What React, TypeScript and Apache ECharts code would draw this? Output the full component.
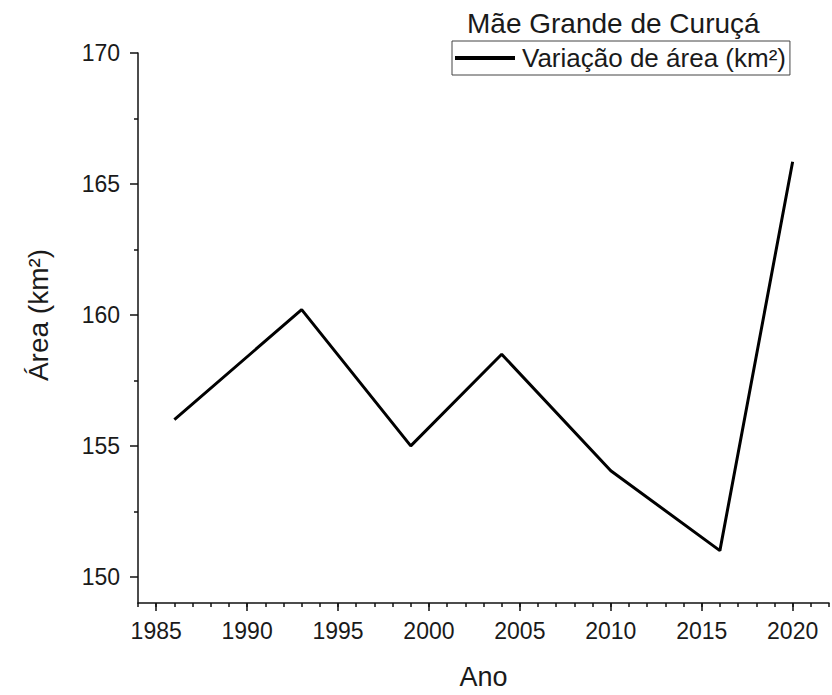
import React, { useEffect, useRef } from "react";
import * as echarts from "echarts";

const years = [1986, 1993, 1999, 2004, 2010, 2016, 2020];
const areas = [156.0, 160.2, 155.0, 158.5, 154.05, 151.0, 165.85];
const xMajorTicks = [1985, 1990, 1995, 2000, 2005, 2010, 2015, 2020];
const xMinorTicks = [1984, 1985, 1986, 1987, 1988, 1989, 1990, 1991, 1992, 1993, 1994, 1995, 1996, 1997, 1998, 1999, 2000, 2001, 2002, 2003, 2004, 2005, 2006, 2007, 2008, 2009, 2010, 2011, 2012, 2013, 2014, 2015, 2016, 2017, 2018, 2019, 2020, 2021, 2022];
const yMajorTicks = [150, 155, 160, 165, 170];
const yMinorTicks = [152.5, 157.5, 162.5, 167.5];
const chartTitle = "Mãe Grande de Curuçá";
const seriesName = "Variação de área (km²)";
const xName = "Ano";
const yName = "Área (km²)";

const FONT = "'Liberation Sans', Arial, sans-serif";

export default function App() {
  const ref = useRef<HTMLDivElement>(null);
  useEffect(() => {
    if (!ref.current) return;
    const chart = echarts.init(ref.current, null, { renderer: "svg" });
    const axisLine = { show: true, lineStyle: { color: "#111", width: 1.5 } };
    chart.setOption({
      animation: false,
      backgroundColor: "#fff",
      textStyle: { fontFamily: FONT },
      title: {
        text: chartTitle,
        left: 467,
        top: 9,
        padding: 0,
        textStyle: { fontFamily: FONT, fontSize: 28, fontWeight: "normal", color: "#1a1a1a" },
      },
      legend: {
        left: 452,
        top: 41,
        orient: "horizontal",
        borderColor: "#444",
        borderWidth: 1,
        padding: [4, 4, 4, 3],
        itemWidth: 60,
        itemHeight: 4,
        itemGap: 5,
        icon: "rect",
        textStyle: { fontFamily: FONT, fontSize: 26, color: "#1a1a1a", padding: [0, 0, 0, 2] },
        data: [{ name: seriesName, itemStyle: { color: "#000" } }],
      },
      grid: { left: 138, right: 3, top: 53, bottom: 88, containLabel: false },
      xAxis: [
        {
          type: "value",
          min: 1984,
          max: 2022,
          name: xName,
          nameLocation: "middle",
          nameGap: 60,
          nameTextStyle: { fontFamily: FONT, fontSize: 27, color: "#1a1a1a" },
          axisLine,
          splitLine: { show: false },
          axisTick: { show: true, inside: false, length: 8, customValues: xMajorTicks, lineStyle: { color: "#111", width: 1.5 } },
          axisLabel: {
            show: true,
            customValues: xMajorTicks,
            formatter: (v: number) => String(v),
            margin: 16,
            fontFamily: FONT,
            fontSize: 23,
            color: "#1a1a1a",
          },
        },
        {
          type: "value",
          min: 1984,
          max: 2022,
          position: "bottom",
          axisLine: { show: false },
          splitLine: { show: false },
          axisTick: { show: true, inside: false, length: 4, customValues: xMinorTicks, lineStyle: { color: "#111", width: 1.5 } },
          axisLabel: { show: false },
        },
      ],
      yAxis: [
        {
          type: "value",
          min: 149,
          max: 170,
          name: yName,
          nameLocation: "middle",
          nameGap: 86,
          nameTextStyle: { fontFamily: FONT, fontSize: 28, color: "#1a1a1a", padding: [0, 0, 0, 26] },
          axisLine,
          splitLine: { show: false },
          axisTick: { show: true, inside: false, length: 8, customValues: yMajorTicks, lineStyle: { color: "#111", width: 1.5 } },
          axisLabel: {
            show: true,
            customValues: yMajorTicks,
            formatter: (v: number) => String(v),
            margin: 18,
            fontFamily: FONT,
            fontSize: 23,
            color: "#1a1a1a",
          },
        },
        {
          type: "value",
          min: 149,
          max: 170,
          position: "left",
          axisLine: { show: false },
          splitLine: { show: false },
          axisTick: { show: true, inside: false, length: 4, customValues: yMinorTicks, lineStyle: { color: "#111", width: 1.5 } },
          axisLabel: { show: false },
        },
      ],
      series: [
        {
          name: seriesName,
          type: "line",
          xAxisIndex: 0,
          yAxisIndex: 0,
          data: years.map((y, i) => [y, areas[i]]),
          symbol: "none",
          lineStyle: { color: "#000", width: 3 },
          itemStyle: { color: "#000" },
        },
      ],
    });
    return () => chart.dispose();
  }, []);
  return <div ref={ref} style={{ width: 832, height: 695, position: "absolute", left: 0, top: 0 }} />;
}
